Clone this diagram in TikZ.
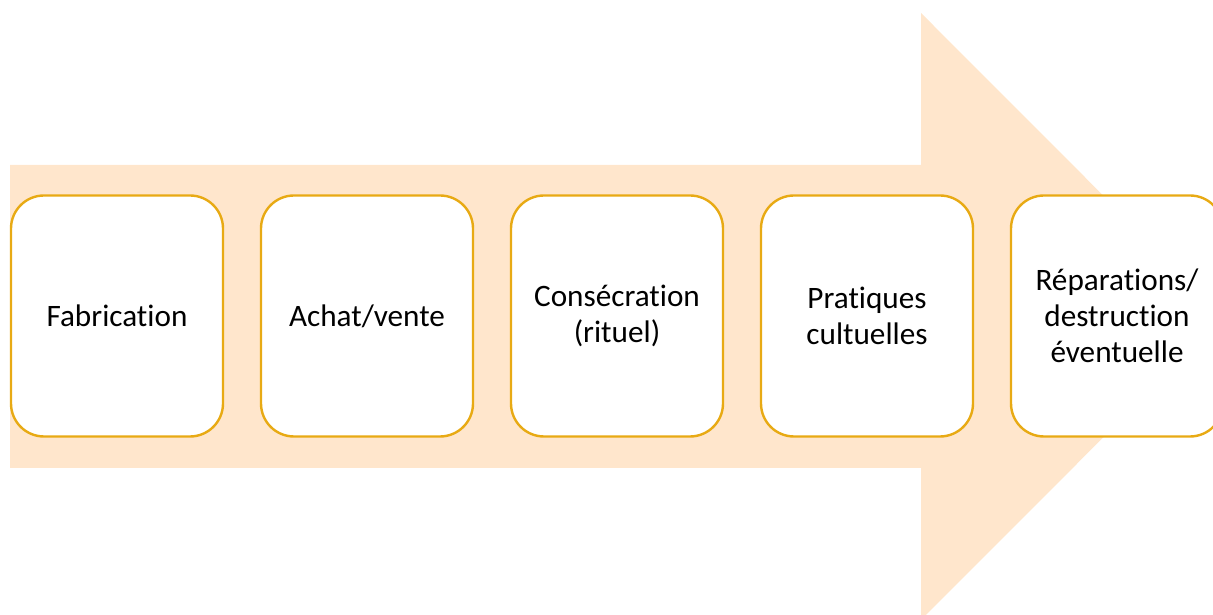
\documentclass[tikz,border=0pt]{standalone}
\usepackage{fontspec}
\setmainfont[Ligatures={NoCommon}]{Carlito}
\usetikzlibrary{positioning,calc}

\definecolor{arrowfill}{HTML}{FFE6CC}
\definecolor{stepline}{HTML}{E8AA14}

\tikzset{
    stepbox/.style={draw=stepline, line width=2.4pt, fill=white, rounded corners=33pt,
        minimum width=212pt, minimum height=241pt, align=center, inner sep=0pt,
        font=\fontsize{31.2}{36}\selectfont},
}

\begin{document}
\begin{tikzpicture}[x=1pt, y=1pt]
    \useasboundingbox (0,0) rectangle (1213,615);
    \clip (0,0) rectangle (1213,615);

    % big arrow behind the steps
    \coordinate (arr-tail-top) at (10,450);
    \coordinate (arr-tail-bot) at (10,147);
    \coordinate (arr-neck-top) at (921,450);
    \coordinate (arr-neck-bot) at (921,147);
    \coordinate (arr-head-top) at (921,602);
    \coordinate (arr-head-bot) at (921,-5);
    \coordinate (arr-tip) at (1224,298.5);
    \fill[arrowfill] (arr-tail-bot) -- (arr-tail-top) -- (arr-neck-top) -- (arr-head-top)
        -- (arr-tip) -- (arr-head-bot) -- (arr-neck-bot) -- cycle;

    % steps
    \node[stepbox] (fab) at (117,299) {Fabrication};
    \node[stepbox, right=35.6pt of fab] (vente) {Achat/vente};
    \node[stepbox, right=35.6pt of vente] (consec) {Consécration\\(rituel)};
    \node[stepbox, right=35.6pt of consec] (culte) {Pratiques\\cultuelles};
    \node[stepbox, right=35.6pt of culte] (repar) {Réparations/\\destruction\\éventuelle};
\end{tikzpicture}
\end{document}
